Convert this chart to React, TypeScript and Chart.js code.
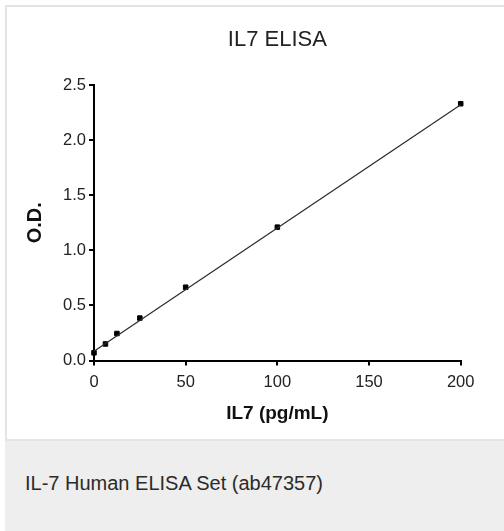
import React, { useEffect, useRef } from "react";
import { Chart, registerables } from "chart.js";

Chart.register(...registerables);

const chartTitle = "IL7 ELISA";
const xAxisTitle = "IL7 (pg/mL)";
const yAxisTitle = "O.D.";
const caption = "IL-7 Human ELISA Set (ab47357)";

const concentrations = [0, 6.25, 12.5, 25, 50, 100, 200];
const odValues = [0.07, 0.15, 0.245, 0.385, 0.665, 1.21, 2.33];

const fitX = [0, 200];
const fitY = [0.085, 2.32];

const xMin = 0;
const xMax = 200;
const xStep = 50;
const yMin = 0;
const yMax = 2.5;
const yStep = 0.5;

const FONT = "'Liberation Sans', Arial, Helvetica, sans-serif";

export default function App() {
  const canvasRef = useRef<HTMLCanvasElement | null>(null);

  useEffect(() => {
    document.body.style.margin = "0";
    const canvas = canvasRef.current;
    if (!canvas) return;
    const chart = new Chart(canvas, {
      type: "scatter",
      data: {
        datasets: [
          {
            label: "fit",
            data: fitX.map((x, i) => ({ x, y: fitY[i] })),
            showLine: true,
            borderColor: "#2a2a2a",
            borderWidth: 1.2,
            pointRadius: 0,
            fill: false,
          },
          {
            label: "standards",
            data: concentrations.map((x, i) => ({ x, y: odValues[i] })),
            pointStyle: "rect",
            pointRadius: 3.2,
            pointBackgroundColor: "#000",
            pointBorderColor: "#000",
            pointBorderWidth: 1,
            showLine: false,
          },
        ],
      },
      options: {
        animation: false,
        responsive: false,
        maintainAspectRatio: false,
        clip: false,
        layout: { padding: { left: 0, right: 43.3, top: 0, bottom: 0 } },
        plugins: {
          legend: { display: false },
          tooltip: { enabled: false },
          title: {
            display: true,
            fullSize: false,
            text: chartTitle,
            color: "#222",
            font: { family: FONT, size: 22, weight: "normal" },
            padding: { top: 27, bottom: 31.6 },
          },
        },
        scales: {
          x: {
            type: "linear",
            min: xMin,
            max: xMax,
            afterFit: (s: any) => {
              s.height = 78.5;
            },
            ticks: {
              stepSize: xStep,
              color: "#222",
              padding: 7,
              maxRotation: 0,
              font: { family: FONT, size: 16.5 },
            },
            grid: {
              drawOnChartArea: false,
              drawTicks: true,
              tickLength: 5,
              color: "#000",
              lineWidth: 2,
            },
            border: { display: true, color: "#000", width: 2 },
            title: {
              display: true,
              text: xAxisTitle,
              color: "#111",
              font: { family: FONT, size: 19, weight: "bold" },
              padding: { top: 0, bottom: 13.6 },
            },
          },
          y: {
            type: "linear",
            min: yMin,
            max: yMax,
            afterFit: (s: any) => {
              s.width = 94;
            },
            ticks: {
              stepSize: yStep,
              color: "#222",
              padding: 3,
              font: { family: FONT, size: 16.5 },
              callback: (v: any) => Number(v).toFixed(1),
            },
            grid: {
              drawOnChartArea: false,
              drawTicks: true,
              tickLength: 5,
              color: "#000",
              lineWidth: 2,
            },
            border: { display: true, color: "#000", width: 2 },
            title: {
              display: true,
              text: yAxisTitle,
              color: "#111",
              font: { family: FONT, size: 20, weight: "bold" },
              padding: { top: 23, bottom: 0 },
            },
          },
        },
      },
    });
    return () => chart.destroy();
  }, []);

  return (
    <div
      style={{
        position: "relative",
        width: 504,
        height: 531,
        overflow: "hidden",
        background: "#fff",
        fontFamily: FONT,
      }}
    >
      <div
        style={{
          position: "absolute",
          left: 5,
          top: 5,
          width: 510,
          height: 434,
          boxSizing: "border-box",
          borderLeft: "2px solid #e3e3e3",
          borderTop: "2px solid #e3e3e3",
          background: "#fff",
        }}
      />
      <div
        style={{
          position: "absolute",
          left: 5,
          top: 439,
          width: 510,
          height: 92,
          boxSizing: "border-box",
          background: "#edeeed",
          borderTop: "2px solid #e4e5e4",
        }}
      >
        <div
          style={{
            position: "absolute",
            left: 20,
            top: 30,
            fontSize: 20,
            lineHeight: "24px",
            color: "#2b2b2b",
            whiteSpace: "nowrap",
          }}
        >
          {caption}
        </div>
      </div>
      <canvas
        ref={canvasRef}
        width={504}
        height={439}
        style={{ position: "absolute", left: 0, top: 0, width: 504, height: 439 }}
      />
    </div>
  );
}
